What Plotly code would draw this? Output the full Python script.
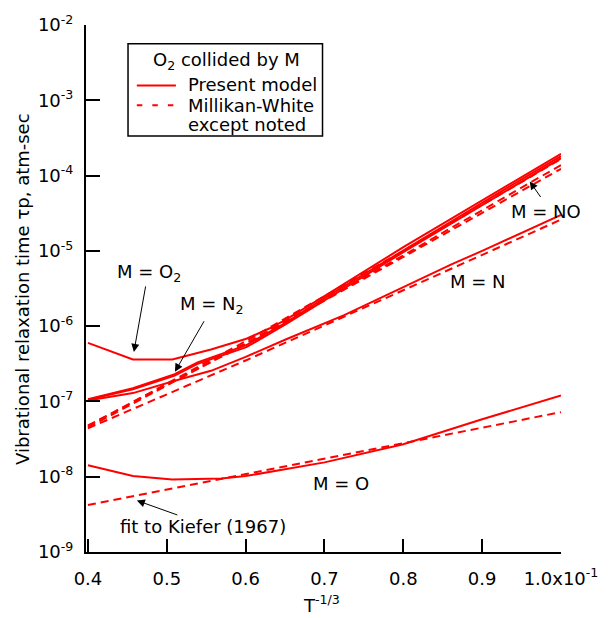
import plotly.graph_objects as go

# ---------------- data ----------------
# x = T^-1/3 (in units of 1e-1), y = vibrational relaxation time p*tau (atm-sec)
x_o2_model = [0.40, 0.457, 0.507, 0.556, 0.601, 0.63, 0.65, 0.70, 0.80, 0.90, 1.00]
y_o2_model = [6.0e-7, 3.6e-7, 3.6e-7, 4.9e-7, 6.8e-7, 9.3e-7, 1.2e-6, 2.5e-6, 1.12e-5, 4.7e-5, 1.95e-4]

x_n2_model = [0.40, 0.457, 0.51, 0.539, 0.601, 0.65, 0.70, 0.80, 0.90, 1.00]
y_n2_model = [1.07e-7, 1.5e-7, 2.3e-7, 3.3e-7, 5.6e-7, 1.1e-6, 2.35e-6, 1.02e-5, 4.35e-5, 1.82e-4]

x_no_model = [0.40, 0.457, 0.51, 0.539, 0.601, 0.65, 0.70, 0.80, 0.90, 1.00]
y_no_model = [1.05e-7, 1.45e-7, 2.2e-7, 3.15e-7, 5.25e-7, 1.05e-6, 2.2e-6, 9.6e-6, 4.05e-5, 1.7e-4]

x_n_model = [0.40, 0.457, 0.519, 0.556, 0.60, 0.65, 0.725, 0.80, 0.861, 0.90, 1.00]
y_n_model = [1.03e-7, 1.29e-7, 2.0e-7, 2.55e-7, 3.9e-7, 6.6e-7, 1.4e-6, 3.3e-6, 6.6e-6, 1.0e-5, 3.0e-5]

x_o_model = [0.40, 0.457, 0.507, 0.569, 0.60, 0.70, 0.80, 0.90, 1.00]
y_o_model = [1.42e-8, 1.02e-8, 9.2e-9, 9.5e-9, 1.02e-8, 1.55e-8, 2.7e-8, 5.8e-8, 1.2e-7]

x_mw = [0.40, 0.60, 0.80, 1.00]
y_o2_mw = [4.7e-8, 6.3e-7, 1.0e-5, 1.66e-4]
y_n2_mw = [4.5e-8, 5.9e-7, 8.7e-6, 1.38e-4]
y_no_mw = [4.8e-8, 5.75e-7, 8.3e-6, 1.23e-4]
y_n_mw = [4.4e-8, 3.5e-7, 3.0e-6, 2.6e-5]

x_kiefer = [0.40, 0.70, 1.00]
y_o_kiefer = [4.2e-9, 1.72e-8, 7.2e-8]

x_tickvals = [0.4, 0.5, 0.6, 0.7, 0.8, 0.9, 1.0]
x_ticktext = ["0.4", "0.5", "0.6", "0.7", "0.8", "0.9", "1.0x10<sup>-1</sup>"]
y_exponents = [-9, -8, -7, -6, -5, -4, -3, -2]

# ---------------- styling ----------------
FONT = "DejaVu Sans"
RED = "#ff0000"
W, H = 610, 618
L, R, T, B = 86, 572, 20, 552


def px(x):
    return (x - L) / (R - L)


def py(y):
    return (B - y) / (B - T)


fig = go.Figure()

solid_series = [
    (x_o2_model, y_o2_model), (x_n2_model, y_n2_model), (x_no_model, y_no_model),
    (x_n_model, y_n_model), (x_o_model, y_o_model),
]
dashed_series = [
    (x_mw, y_o2_mw), (x_mw, y_n2_mw), (x_mw, y_no_mw), (x_mw, y_n_mw), (x_kiefer, y_o_kiefer),
]
for xs, ys in dashed_series:
    fig.add_trace(go.Scatter(x=xs, y=ys, mode="lines", showlegend=False, hoverinfo="skip",
                             line=dict(color=RED, width=2, dash="8px,5px")))
for xs, ys in solid_series:
    fig.add_trace(go.Scatter(x=xs, y=ys, mode="lines", showlegend=False, hoverinfo="skip",
                             line=dict(color=RED, width=2)))

x0 = 0.4 - 2 / ((R - L - 2) / 0.6)
fig.update_xaxes(range=[x0, 1.0], tickvals=x_tickvals, ticktext=x_ticktext,
                 ticks="inside", ticklen=13, tickwidth=2, tickcolor="black",
                 showline=True, linewidth=2, linecolor="black", mirror=False,
                 showgrid=False, zeroline=False, ticklabelstandoff=9,
                 tickfont=dict(family=FONT, size=18, color="black"))
fig.update_yaxes(type="log", range=[-9, -2],
                 tickvals=[10.0 ** e for e in y_exponents],
                 ticktext=["10<sup>%d</sup>" % e for e in y_exponents],
                 ticks="inside", ticklen=14, tickwidth=2, tickcolor="black",
                 showline=True, linewidth=2, linecolor="black", mirror=False,
                 showgrid=False, zeroline=False, ticklabelstandoff=7,
                 tickfont=dict(family=FONT, size=18, color="black"))

ann = []
tf = dict(family=FONT, size=18, color="black")


def label(text, x, y, xanchor="center"):
    ann.append(dict(text=text, x=px(x), y=py(y), xref="paper", yref="paper",
                    xanchor=xanchor, yanchor="middle", showarrow=False, font=tf))


def arrow(tip, tail):
    ann.append(dict(text="", x=px(tip[0]), y=py(tip[1]), xref="paper", yref="paper",
                    ax=tail[0] - tip[0], ay=tail[1] - tip[1], showarrow=True,
                    arrowhead=2, arrowsize=1.6, arrowwidth=1, arrowcolor="black",
                    standoff=0, startstandoff=0))


# curve labels
label("M = O<sub>2</sub>", 150, 270)
label("M = N<sub>2</sub>", 215, 303)
label("M = NO", 557, 208)
label("M = N", 487, 279)
label("M = O", 347, 483)
label("fit to Kiefer (1967)", 206, 526)
arrow((135, 350), (147, 283))
arrow((177, 370), (207, 318))
arrow((540, 178), (552, 195))
arrow((138, 500), (180, 515))

# axis titles
label("T<sup>-1/3</sup>", 327, 604)
ann.append(dict(text="Vibrational relaxation time \u03c4p, atm-sec", x=px(21), y=py(286),
                xref="paper", yref="paper", textangle=-90, xanchor="center",
                yanchor="middle", showarrow=False, font=tf))

# legend box
label("O<sub>2</sub> collided by M", 153, 56, xanchor="left")
label("Present model", 188, 80, xanchor="left")
label("Millikan-White", 188, 101, xanchor="left")
label("except noted", 188, 120, xanchor="left")

shapes = [
    dict(type="rect", xref="paper", yref="paper", x0=px(129), x1=px(328), y0=py(39), y1=py(132),
         line=dict(color="black", width=1.5), fillcolor="white", layer="below"),
    dict(type="line", xref="paper", yref="paper", x0=px(138), x1=px(178), y0=py(81), y1=py(81),
         line=dict(color=RED, width=2)),
    dict(type="line", xref="paper", yref="paper", x0=px(138), x1=px(176), y0=py(101), y1=py(101),
         line=dict(color=RED, width=2, dash="5.5px,10px")),
]

fig.update_layout(width=W, height=H, margin=dict(l=L, r=W - R, t=T, b=H - B),
                  paper_bgcolor="white", plot_bgcolor="white",
                  annotations=ann, shapes=shapes, showlegend=False, hovermode=False,
                  font=dict(family=FONT, size=18, color="black"))

fig.write_html("out.html", config={"displayModeBar": False, "staticPlot": True},
               post_script="document.body.style.margin='0';document.body.style.overflow='hidden';")
